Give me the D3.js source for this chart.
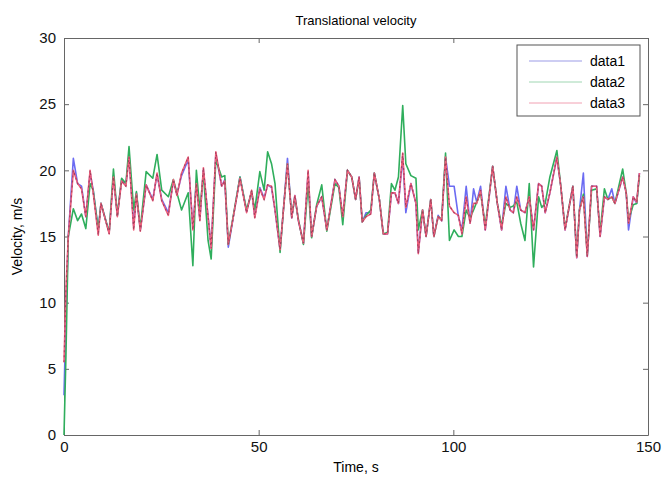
<!DOCTYPE html>
<html>
<head>
<meta charset="utf-8">
<script src="https://cdn.jsdelivr.net/npm/d3@7"></script>
<style>
  body { margin: 0; background: #fff; }
  text { font-family: "Liberation Sans", Arial, sans-serif; }
</style>
</head>
<body>
<script>
//sample times (s)
var times = [0, 0.5, 1.1, 2.4, 3.5, 4.5, 5.6, 6.7, 7.5, 8.8, 9.5, 11.6, 12.7, 13.7, 14.8, 15.9, 16.7, 17.9, 18.6, 19.6,
    21.1, 22.8, 23.9, 25.1, 26.8, 28.1, 29.0, 30.2, 31.9, 33.1, 34.0, 34.9, 35.8, 37.0, 37.8, 39.0, 40.5, 41.3, 42.2, 43.5,
    45.2, 46.9, 48.2, 49.0, 50.3, 51.4, 52.3, 53.3, 54.2, 55.5, 56.3, 57.4, 58.5, 59.3, 60.2, 61.5, 62.7, 63.6, 64.9, 66.2,
    67.5, 69.6, 70.6, 71.6, 72.8, 73.9, 74.9, 75.8, 76.6, 77.6, 78.8, 79.7, 81.0, 82.0, 83.1, 84.1, 85.0, 85.9, 87.0, 87.8,
    89.1, 90.4, 91.0, 92.1, 93.0, 94.2, 95.0, 96.1, 97.0, 98.0, 99.0, 100.2, 101.3, 102.2, 103.3, 104.3, 105.2, 106.0, 107.0, 108.2,
    110.1, 111.3, 112.4, 113.5, 114.6, 115.4, 116.3, 117.3, 118.4, 119.5, 120.6, 121.9, 122.7, 123.6, 124.8, 126.6, 127.6, 128.7, 130.7, 131.7,
    132.4, 133.4, 134.4, 135.5, 136.8, 137.7, 138.8, 139.7, 140.7, 141.5, 143.5, 144.4, 145.0, 146.2, 147.1, 147.8];

//data1 (blue)
var data1 = [3, 9, 15, 20.9, 19.0, 18.8, 16.5, 19.8, 18.5, 15.5, 17.5, 15.3, 19.6, 16.6, 19.3, 18.9, 21.2, 15.8, 18.3, 15.5,
    18.9, 17.8, 19.7, 17.8, 16.8, 19.2, 18.2, 19.6, 20.8, 15.6, 19.2, 16.3, 20.0, 16.5, 14.2, 21.2, 18.8, 19.3, 14.2, 16.5,
    19.5, 16.9, 18.4, 16.6, 18.7, 17.9, 18.9, 18.7, 17.0, 14.0, 16.8, 20.9, 16.4, 18.1, 16.2, 14.5, 19.8, 15.0, 17.3, 18.0,
    15.5, 19.3, 18.8, 16.4, 20.0, 19.5, 17.8, 19.5, 16.1, 16.8, 16.8, 19.8, 17.8, 15.2, 15.2, 18.3, 18.3, 17.5, 21.0, 16.8,
    19.0, 17.5, 13.8, 17.0, 15.0, 17.8, 15.0, 16.6, 16.2, 21.0, 18.8, 18.8, 16.5, 15.5, 18.8, 16.0, 18.6, 17.6, 18.8, 15.5,
    20.3, 17.5, 15.5, 18.8, 17.0, 16.8, 18.8, 17.0, 16.8, 18.0, 15.5, 19.0, 18.8, 16.8, 18.3, 21.0, 18.8, 15.5, 18.8, 13.4,
    17.0, 19.8, 13.5, 18.8, 18.8, 15.0, 18.0, 17.8, 18.6, 17.5, 19.5, 18.3, 15.5, 18.0, 17.5, 19.8];

//data2 (green)
var data2 = [0, 6, 15, 17.1, 16.2, 16.7, 15.6, 19.0, 18.5, 15.5, 17.5, 15.3, 20.1, 16.6, 19.4, 19.0, 21.8, 17.0, 18.4, 15.6,
    19.9, 19.4, 21.2, 18.5, 18.0, 19.3, 18.3, 17.0, 18.3, 12.8, 20.0, 17.0, 19.8, 14.7, 13.3, 20.8, 19.5, 19.6, 14.4, 16.6,
    19.5, 17.0, 18.4, 17.0, 19.9, 18.5, 21.4, 20.5, 19.0, 13.8, 16.8, 20.5, 16.5, 18.0, 16.3, 14.4, 19.0, 14.9, 17.4, 18.9,
    15.4, 19.0, 18.7, 15.9, 20.0, 19.5, 17.8, 19.4, 16.1, 16.6, 17.0, 19.8, 17.8, 15.2, 15.3, 19.0, 18.5, 19.5, 24.9, 20.5,
    19.6, 19.4, 15.5, 17.0, 15.0, 17.8, 15.0, 16.5, 16.3, 21.3, 14.7, 15.5, 15.0, 15.0, 17.0, 16.4, 17.0, 17.6, 18.3, 15.8,
    20.3, 17.5, 15.8, 17.5, 17.2, 17.3, 17.6, 16.0, 14.7, 19.0, 12.7, 18.0, 17.2, 17.5, 19.5, 21.5, 18.8, 15.6, 18.8, 13.5,
    17.0, 18.2, 13.6, 18.5, 18.6, 15.3, 18.6, 17.8, 18.0, 17.5, 20.1, 18.3, 16.2, 17.4, 17.5, 19.6];

//data3 (red)
var data3 = [5.5, 11, 15, 20.0, 19.0, 18.6, 16.5, 20.0, 18.3, 15.1, 17.5, 15.2, 19.5, 16.5, 19.2, 18.8, 21.0, 15.5, 18.2, 15.4,
    18.9, 17.7, 19.8, 17.7, 16.6, 19.3, 18.1, 19.8, 21.0, 15.5, 19.0, 16.2, 20.2, 16.5, 14.1, 21.4, 18.8, 19.2, 14.4, 16.5,
    19.4, 16.8, 18.5, 16.4, 18.6, 17.8, 18.9, 18.8, 17.0, 14.0, 16.8, 20.5, 16.4, 18.1, 16.2, 14.5, 20.0, 15.0, 17.3, 18.0,
    15.5, 19.3, 18.8, 16.5, 20.0, 19.5, 17.8, 19.5, 16.1, 16.5, 16.7, 19.8, 17.8, 15.2, 15.2, 18.3, 18.3, 17.5, 21.3, 17.2,
    19.0, 17.5, 13.7, 17.0, 15.0, 17.8, 15.0, 16.5, 16.2, 21.0, 17.3, 16.8, 16.6, 15.2, 18.0, 16.0, 17.5, 17.5, 18.5, 15.5,
    20.3, 17.5, 15.5, 18.0, 17.0, 16.8, 18.0, 17.0, 16.8, 18.0, 15.5, 19.0, 18.8, 16.8, 18.3, 21.0, 18.8, 15.5, 18.8, 13.4,
    17.0, 18.0, 13.5, 18.8, 18.8, 15.0, 18.0, 17.8, 18.0, 17.5, 19.5, 18.3, 16.0, 18.0, 17.6, 19.8];

var seriesNames = ["data1", "data2", "data3"];
var xTicks = [0, 50, 100, 150];
var yTicks = [0, 5, 10, 15, 20, 25, 30];

//plot box
var margin = {top: 38, right: 16, bottom: 42, left: 64},
    width = 664 - margin.left - margin.right,
    height = 477 - margin.top - margin.bottom;

var x = d3.scaleLinear().domain([0, 150]).range([0, width]);
var y = d3.scaleLinear().domain([0, 30]).range([height, 0]);

var svg = d3.select("body").append("svg")
    .attr("width", 664)
    .attr("height", 477);

var g = svg.append("g")
    .attr("transform", "translate(" + margin.left + "," + margin.top + ")");

//title
svg.append("text")
    .attr("x", margin.left + width / 2)
    .attr("y", 25)
    .attr("text-anchor", "middle")
    .style("font-size", "13px")
    .text("Translational velocity");

//axes with inward ticks, matlab style box
var axisColor = "#666";
var axBottom = g.append("g")
    .attr("transform", "translate(0," + height + ")")
    .call(d3.axisBottom(x).tickValues(xTicks).tickSizeInner(-5).tickSizeOuter(0).tickPadding(6));
var axTop = g.append("g")
    .call(d3.axisTop(x).tickValues(xTicks).tickSizeInner(-5).tickSizeOuter(0).tickFormat(""));
var axLeft = g.append("g")
    .call(d3.axisLeft(y).tickValues(yTicks).tickSizeInner(-5).tickSizeOuter(0).tickPadding(8));
var axRight = g.append("g")
    .attr("transform", "translate(" + width + ",0)")
    .call(d3.axisRight(y).tickValues(yTicks).tickSizeInner(-5).tickSizeOuter(0).tickFormat(""));

[axBottom, axTop, axLeft, axRight].forEach(a => {
    a.select(".domain").attr("stroke", axisColor);
    a.selectAll(".tick line").attr("stroke", axisColor);
    a.selectAll("text").style("font-size", "15px").attr("fill", "#111");
});

//axis labels
svg.append("text")
    .attr("x", margin.left + width / 2)
    .attr("y", 472)
    .attr("text-anchor", "middle")
    .style("font-size", "14px")
    .text("Time, s");

svg.append("text")
    .attr("transform", "translate(22," + (margin.top + height / 2) + ") rotate(-90)")
    .attr("text-anchor", "middle")
    .style("font-size", "14px")
    .text("Velocity, m/s");

//lines
var colors = ["#6b6bf2", "#2fae5c", "#ef5f7c"];
var allSeries = [data1, data2, data3];

var line = d3.line()
    .x((d, i) => x(times[i]))
    .y(d => y(d));

allSeries.forEach((s, k) => {
    g.append("path")
        .datum(s)
        .attr("fill", "none")
        .attr("stroke", colors[k])
        .attr("stroke-width", 1.6)
        .attr("stroke-linejoin", "round")
        .attr("d", line);
});

//darker dotted overlay seen on the red trace
g.append("path")
    .datum(data3)
    .attr("fill", "none")
    .attr("stroke", "#7a2a4a")
    .attr("stroke-width", 1.2)
    .attr("stroke-dasharray", "2,3")
    .attr("opacity", 0.6)
    .attr("d", line);

//legend
var legend = svg.append("g")
    .attr("transform", "translate(517,45)");

legend.append("rect")
    .attr("width", 123)
    .attr("height", 71)
    .attr("fill", "#fff")
    .attr("stroke", "#555");

var legendColors = ["#9b9be6", "#9fd6b2", "#f1a0b2"];
seriesNames.forEach((name, i) => {
    var yy = 16 + i * 21;
    legend.append("line")
        .attr("x1", 12).attr("x2", 65)
        .attr("y1", yy).attr("y2", yy)
        .attr("stroke", legendColors[i])
        .attr("stroke-width", 1);
    legend.append("text")
        .attr("x", 73)
        .attr("y", yy + 5)
        .style("font-size", "14px")
        .text(name);
});
</script>
</body>
</html>
